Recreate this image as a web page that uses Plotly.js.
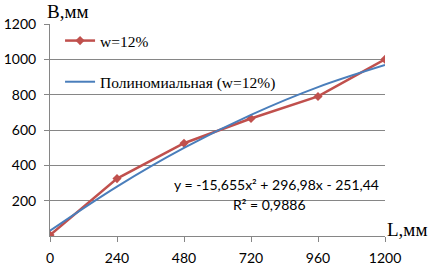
<!DOCTYPE html>
<html><head><meta charset="utf-8">
<script src="https://cdn.plot.ly/plotly-3.0.1.min.js"></script>
<style>html,body{margin:0;padding:0;background:#fff}#c{width:435px;height:266px}</style>
</head><body><div id="c"></div>
<script>
const L = [0, 240, 480, 720, 960, 1200];
const B = [5, 325, 525, 665, 790, 1000];
const trend = [30, 280, 499, 686, 843, 968];
const xTicks = [0, 240, 480, 720, 960, 1200];
const yTicks = [200, 400, 600, 800, 1000, 1200];

const traces = [
  {x: L, y: B, type: 'scatter', mode: 'lines+markers', name: 'w=12%', legendgroup: 'a',
   line: {color: '#C0504D', width: 2.5}, marker: {symbol: 'diamond', size: 7, color: '#C0504D'}},
  {x: L, y: trend, type: 'scatter', mode: 'lines', name: 'Полиномиальная (w=12%)', legendgroup: 'b',
   line: {color: '#4A7EBB', width: 2, shape: 'spline'}}
];
const layout = {
  width: 435, height: 266,
  margin: {l: 50, r: 50, t: 24, b: 30},
  paper_bgcolor: '#fff', plot_bgcolor: '#fff',
  showlegend: true,
  legend: {x: 0.03, y: 1.0, xanchor: 'left', yanchor: 'top', bgcolor: 'rgba(0,0,0,0)',
           font: {family: 'Liberation Serif', size: 15.5, color: '#000'},
           traceorder: 'grouped', tracegroupgap: 18},
  xaxis: {range: [0, 1200], tickvals: xTicks, ticktext: xTicks.map(String), showgrid: false,
          zeroline: false, showline: true, linecolor: '#868686', linewidth: 1,
          ticks: 'outside', ticklen: 5, tickcolor: '#868686', ticklabelstandoff: 4,
          tickfont: {family: 'Lato', size: 14, color: '#000'}},
  yaxis: {range: [0, 1200], tickvals: yTicks, ticktext: yTicks.map(String), showgrid: true,
          gridcolor: '#868686', gridwidth: 1, zeroline: false, showline: true,
          linecolor: '#868686', linewidth: 1, ticks: 'outside', ticklen: 5, tickcolor: '#868686',
          ticklabelstandoff: 5,
          tickfont: {family: 'Lato', size: 14, color: '#000'}},
  annotations: [
    {xref: 'paper', yref: 'paper', x: -0.015, y: 1.0, xanchor: 'left', yanchor: 'bottom',
     text: 'B,мм', showarrow: false, font: {family: 'Liberation Serif', size: 19, color: '#000'}},
    {xref: 'paper', yref: 'paper', x: 1.0, y: 0.03, xanchor: 'left', yanchor: 'middle',
     text: 'L,мм', showarrow: false, font: {family: 'Liberation Serif', size: 19, color: '#000'}},
    {xref: 'x', yref: 'y', x: 812, y: 290, xanchor: 'center', yanchor: 'middle',
     text: 'y = -15,655x² + 296,98x - 251,44', showarrow: false,
     font: {family: 'Lato', size: 14, color: '#000'}},
    {xref: 'x', yref: 'y', x: 785, y: 178, xanchor: 'center', yanchor: 'middle',
     text: 'R² = 0,9886', showarrow: false,
     font: {family: 'Lato', size: 14, color: '#000'}}
  ]
};
Plotly.newPlot('c', traces, layout, {displayModeBar: false, staticPlot: true});
</script></body></html>
